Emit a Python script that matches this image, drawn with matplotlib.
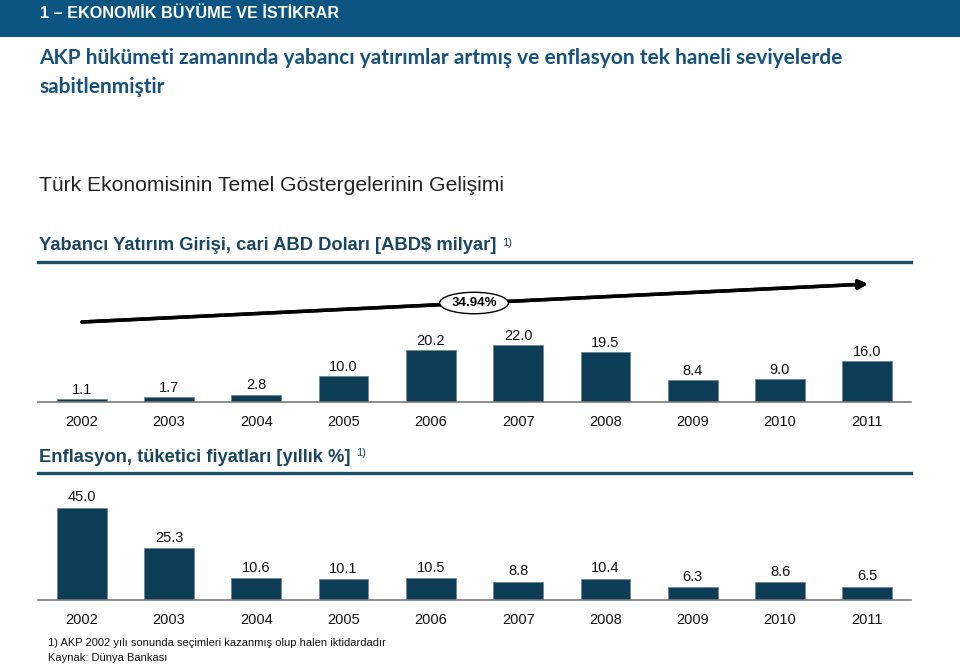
import matplotlib.pyplot as plt
from matplotlib.patches import Rectangle
from matplotlib.lines import Line2D

# data
years = ["2002", "2003", "2004", "2005", "2006", "2007", "2008", "2009", "2010", "2011"]
yatirim = [1.1, 1.7, 2.8, 10.0, 20.2, 22.0, 19.5, 8.4, 9.0, 16.0]
enflasyon = [45.0, 25.3, 10.6, 10.1, 10.5, 8.8, 10.4, 6.3, 8.6, 6.5]
artis = "34.94%"

W, H = 960, 665
bar_col = "#0d3d56"
head_col = "#0c5583"
title_col = "#17527f"
sect_col = "#1b4660"
line_col = "#1b4f6c"
arial = "Liberation Sans"


def fx(x):
    return x / W


def fy(y):
    return 1 - y / H


fig = plt.figure(figsize=(W / 100, H / 100), dpi=100)

# header band
fig.add_artist(Rectangle((0, fy(37)), 1, 37 / H, transform=fig.transFigure,
                         color=head_col, lw=0))
fig.text(fx(40), fy(13), "1 – EKONOMİK BÜYÜME VE İSTİKRAR", color="white",
         fontsize=11.7, fontweight="bold", family=arial, va="center")

fig.text(fx(39), fy(58), "AKP hükümeti zamanında yabancı yatırımlar artmış ve enflasyon tek haneli seviyelerde",
         color=title_col, fontsize=15, fontweight="bold", family="Lato", va="center")
fig.text(fx(39), fy(87), "sabitlenmiştir",
         color=title_col, fontsize=15, fontweight="bold", family="Lato", va="center")

fig.text(fx(39), fy(186), "Türk Ekonomisinin Temel Göstergelerinin Gelişimi",
         color="#222222", fontsize=15.2, family=arial, va="center")


def section(y_text, y_line, txt):
    t = fig.text(fx(39), fy(y_text), txt, color=sect_col, fontsize=13.2,
                 fontweight="bold", family=arial, va="center")
    plt.annotate("1)", xy=(1, 1), xycoords=t, xytext=(4, 0),
                 textcoords="offset points", fontsize=8, color=sect_col,
                 family=arial, va="top", annotation_clip=False)
    fig.add_artist(Line2D([fx(38), fx(911)], [fy(y_line), fy(y_line)],
                          transform=fig.transFigure, color=line_col, lw=2.4))


def bars(base_px, top_px, px_per_unit, values, pad):
    ax = fig.add_axes([fx(38), fy(base_px), fx(911) - fx(38), (base_px - top_px) / H])
    ax.bar(range(len(values)), values, width=0.57, color=bar_col, edgecolor="#6f8796", lw=0.6)
    ax.set_xlim(-0.5, len(values) - 0.5)
    ax.set_ylim(0, (base_px - top_px) / px_per_unit)
    for i, v in enumerate(values):
        ax.annotate(f"{v:.1f}", (i, v), xytext=(0, pad), textcoords="offset points",
                    ha="center", va="bottom", fontsize=10.5, family=arial, color="#111111")
    ax.set_xticks(range(len(years)))
    ax.set_xticklabels(years, fontsize=10.5, family=arial, color="#111111")
    ax.tick_params(axis="x", length=0, pad=9.5)
    ax.set_yticks([])
    for s in ["top", "left", "right"]:
        ax.spines[s].set_visible(False)
    ax.spines["bottom"].set_color("#7a7a7a")
    ax.spines["bottom"].set_linewidth(1.2)
    ax.patch.set_alpha(0)
    return ax


ax1 = bars(401.7, 330, 2.56, yatirim, 1.5)
ax2 = bars(600, 480, 2.05, enflasyon, 2.5)
section(246, 262, "Yabancı Yatırım Girişi, cari ABD Doları [ABD$ milyar]")
section(457, 473, "Enflasyon, tüketici fiyatları [yıllık %]")

# trend arrow
fig.add_artist(plt.annotate("", xy=(868, H - 284), xytext=(82, H - 322), xycoords="figure pixels",
                            textcoords="figure pixels",
                            arrowprops=dict(arrowstyle="-|>", lw=2.5, color="black", mutation_scale=13,
                                            shrinkA=0, shrinkB=0)))
fig.text(fx(474), fy(303), artis, ha="center", va="center", fontsize=9.5, fontweight="bold",
         family=arial, bbox=dict(boxstyle="ellipse,pad=0.12", fc="white", ec="black", lw=1))

fig.text(fx(48), fy(643), "1) AKP 2002 yılı sonunda seçimleri kazanmış olup halen iktidardadır",
         fontsize=8, family=arial, color="#111111", va="center")
fig.text(fx(48), fy(658), "Kaynak: Dünya Bankası",
         fontsize=8, family=arial, color="#111111", va="center")

fig.savefig("out.png", dpi=100)
